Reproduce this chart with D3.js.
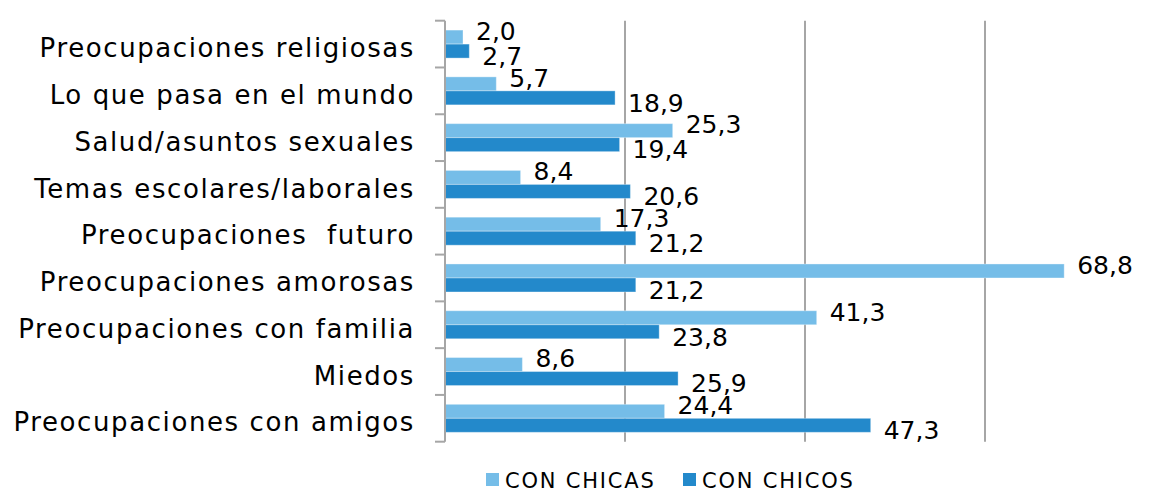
<!DOCTYPE html>
<html>
<head>
<meta charset="utf-8">
<script src="https://cdn.jsdelivr.net/npm/d3@7"></script>
<style>
  body { margin: 0; background: #fff; }
  text { font-family: "DejaVu Sans", sans-serif; fill: #000; }
</style>
</head>
<body>
<div id="main"></div>
<script>
var categories = [
  "Preocupaciones religiosas",
  "Lo que pasa en el mundo",
  "Salud/asuntos sexuales",
  "Temas escolares/laborales",
  "Preocupaciones  futuro",
  "Preocupaciones amorosas",
  "Preocupaciones con familia",
  "Miedos",
  "Preocupaciones con amigos"
]
var chicas = [2.0, 5.7, 25.3, 8.4, 17.3, 68.8, 41.3, 8.6, 24.4]
var chicos = [2.7, 18.9, 19.4, 20.6, 21.2, 21.2, 23.8, 25.9, 47.3]
var seriesNames = ["CON CHICAS", "CON CHICOS"]
var gridValues = [20, 40, 60, 80]

var w = 1154, h = 494
var colors = ["#75bde8", "#2389cb"]

var svg = d3.select("#main").append("svg")
  .attr("width", w)
  .attr("height", h)

var x = d3.scaleLinear().domain([0, 80]).range([445, 1165])

var y0 = d3.scaleBand().domain(categories).range([20.7, 441.7])

var y1 = d3.scaleBand().domain(seriesNames).range([0, y0.bandwidth()]).paddingOuter(0.67)

// gridlines
svg.selectAll(".grid")
  .data(gridValues)
  .enter().append("line")
  .attr("x1", function(d) { return x(d) })
  .attr("x2", function(d) { return x(d) })
  .attr("y1", y0.range()[0])
  .attr("y2", y0.range()[1])
  .attr("stroke", "#a6a6a6")
  .attr("stroke-width", 2)

// rows
var rows = categories.map(function(c, i) {
  return { cat: c, vals: [chicas[i], chicos[i]] }
})

var g = svg.selectAll(".row")
  .data(rows)
  .enter().append("g")
  .attr("transform", function(d) { return "translate(0," + y0(d.cat) + ")" })

g.selectAll("rect")
  .data(function(d) { return d.vals.map(function(v, j) { return { v: v, s: seriesNames[j], j: j } }) })
  .enter().append("rect")
  .attr("x", x(0))
  .attr("y", function(d) { return y1(d.s) })
  .attr("width", function(d) { return x(d.v) - x(0) })
  .attr("height", y1.bandwidth())
  .attr("fill", function(d) { return colors[d.j] })
  .attr("stroke", "#ffffff")
  .attr("stroke-opacity", 0.35)
  .attr("stroke-width", 1)

// value labels: light ones near top of light bar, dark ones a bit under the dark bar's middle
g.selectAll(".val")
  .data(function(d) { return d.vals.map(function(v, j) { return { v: v, s: seriesNames[j], j: j } }) })
  .enter().append("text")
  .attr("class", "val")
  .attr("x", function(d) { return x(d.v) + 13 })
  .attr("y", function(d) {
    return d.j == 0 ? y1(d.s) + 1 : y1(d.s) + y1.bandwidth() / 2 + 5
  })
  .attr("dy", "0.35em")
  .style("font-size", "25px")
  .text(function(d) { return d3.format(".1f")(d.v).replace(".", ",") })

// axis line + ticks
svg.append("line")
  .attr("x1", x(0)).attr("x2", x(0))
  .attr("y1", y0.range()[0]).attr("y2", y0.range()[1])
  .attr("stroke", "#a6a6a6").attr("stroke-width", 2)

var tickPos = categories.map(function(c) { return y0(c) }).concat([y0.range()[1]])
svg.selectAll(".tick")
  .data(tickPos)
  .enter().append("line")
  .attr("x1", x(0) - 10).attr("x2", x(0))
  .attr("y1", function(d) { return d }).attr("y2", function(d) { return d })
  .attr("stroke", "#a6a6a6").attr("stroke-width", 2)

// category labels
svg.selectAll(".cat")
  .data(categories)
  .enter().append("text")
  .attr("x", 415)
  .attr("y", function(d) { return y0(d) + y0.bandwidth() / 2 + 4 })
  .attr("dy", "0.35em")
  .attr("text-anchor", "end")
  .style("font-size", "26px")
  .style("letter-spacing", "1.6px")
  .style("white-space", "pre")
  .text(function(d) { return d })

// legend
var legX = [486, 683]
var leg = svg.selectAll(".leg")
  .data(seriesNames)
  .enter().append("g")
  .attr("transform", function(d, i) { return "translate(" + legX[i] + ",473)" })
leg.append("rect")
  .attr("width", 13).attr("height", 13)
  .attr("fill", function(d, i) { return colors[i] })
leg.append("text")
  .attr("x", 19).attr("y", 8)
  .attr("dy", "0.35em")
  .style("font-size", "21px")
  .style("letter-spacing", "1.8px")
  .text(function(d) { return d })
</script>
</body>
</html>
